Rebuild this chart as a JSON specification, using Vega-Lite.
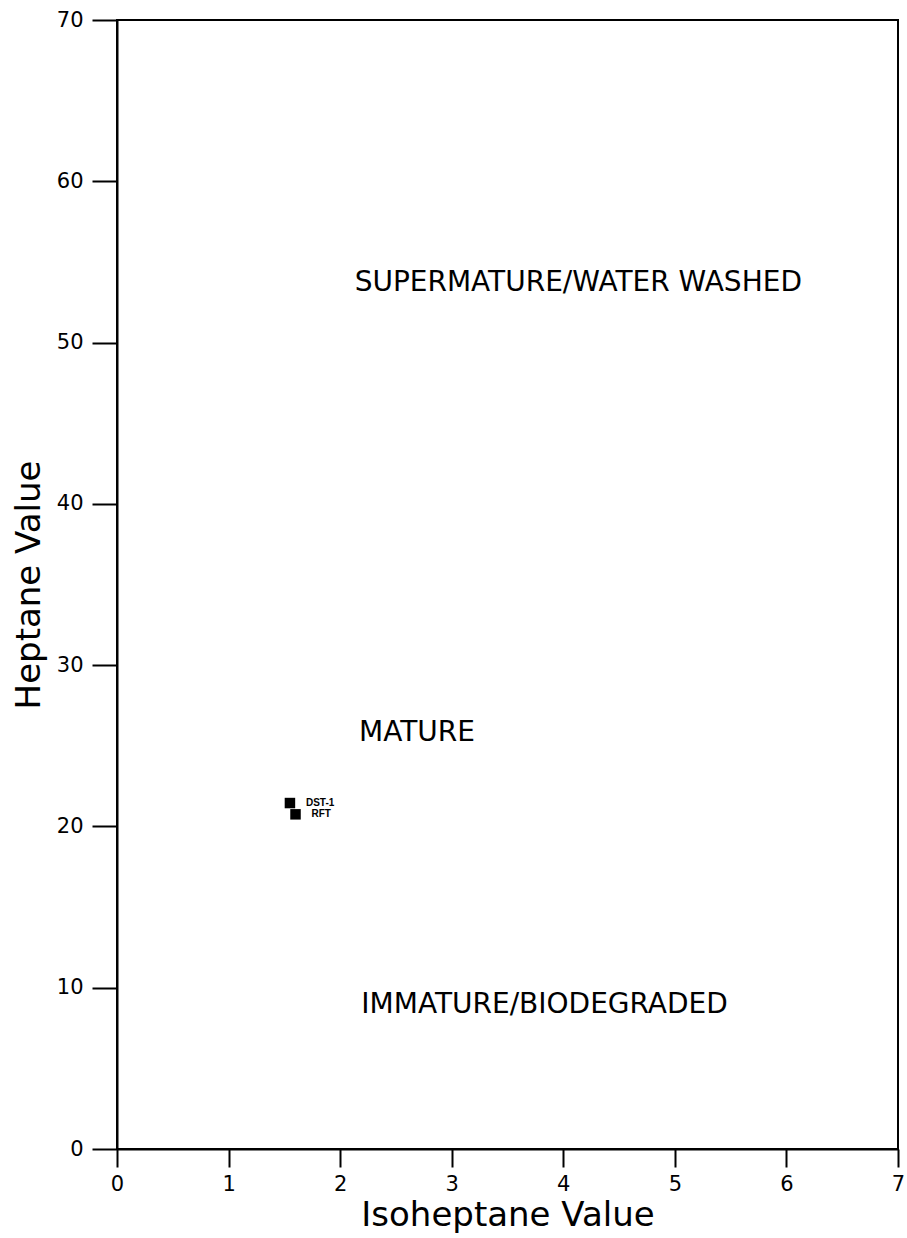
{
  "$schema": "https://vega.github.io/schema/vega-lite/v6.json",
  "autosize": "none",
  "width": 781,
  "height": 1129,
  "padding": {"left": 117, "top": 20, "right": 9, "bottom": 89},
  "background": "white",
  "config": {
    "view": {"stroke": "black", "strokeWidth": 2},
    "font": "DejaVu Sans"
  },
  "datasets": {
    "samples": [
      {"iso": 1.55, "hep": 21.45, "name": "DST-1"},
      {"iso": 1.60, "hep": 20.75, "name": "RFT"}
    ],
    "zones": [
      {"iso": 2.13, "hep": 53.7, "zone": "SUPERMATURE/WATER WASHED"},
      {"iso": 2.17, "hep": 25.8, "zone": "MATURE"},
      {"iso": 2.19, "hep": 8.9, "zone": "IMMATURE/BIODEGRADED"}
    ]
  },
  "layer": [
    {
      "data": {"name": "samples"},
      "mark": {"type": "square", "size": 110, "color": "black", "opacity": 1, "filled": true},
      "encoding": {
        "x": {
          "field": "iso", "type": "quantitative",
          "scale": {"domain": [0, 7], "nice": false, "zero": true},
          "axis": {"title": "Isoheptane Value", "values": [0,1,2,3,4,5,6,7], "tickSize": 18, "tickWidth": 2, "tickColor": "black", "domainColor": "black", "domainWidth": 2, "grid": false, "labelPadding": 6, "labelFontSize": 21, "labelFont": "DejaVu Sans", "labelColor": "black", "labelOverlap": false, "labelFlush": false, "labelBound": false, "titlePadding": 4, "titleFontSize": 34, "titleFont": "DejaVu Sans", "titleFontWeight": "normal", "titleColor": "black", "format": "d"}
        },
        "y": {
          "field": "hep", "type": "quantitative",
          "scale": {"domain": [0, 70], "nice": false},
          "axis": {"title": "Heptane Value", "values": [0,10,20,30,40,50,60,70], "tickSize": 25, "tickWidth": 2, "tickColor": "black", "domainColor": "black", "domainWidth": 2, "grid": false, "labelPadding": 9, "labelFontSize": 21, "labelFont": "DejaVu Sans", "labelColor": "black", "labelOverlap": false, "labelFlush": false, "labelBound": false, "titlePadding": 10, "titleFontSize": 34, "titleFont": "DejaVu Sans", "titleFontWeight": "normal", "titleColor": "black", "format": "d"}
        }
      }
    },
    {
      "data": {"name": "samples"},
      "mark": {"type": "text", "align": "left", "baseline": "middle", "dx": 16, "fontSize": 10, "fontWeight": "bold", "font": "Liberation Sans", "color": "black"},
      "encoding": {
        "x": {"field": "iso", "type": "quantitative"},
        "y": {"field": "hep", "type": "quantitative"},
        "text": {"field": "name"}
      }
    },
    {
      "data": {"name": "zones"},
      "mark": {"type": "text", "align": "left", "baseline": "middle", "fontSize": 28, "font": "DejaVu Sans", "color": "black"},
      "encoding": {
        "x": {"field": "iso", "type": "quantitative"},
        "y": {"field": "hep", "type": "quantitative"},
        "text": {"field": "zone"}
      }
    }
  ]
}
